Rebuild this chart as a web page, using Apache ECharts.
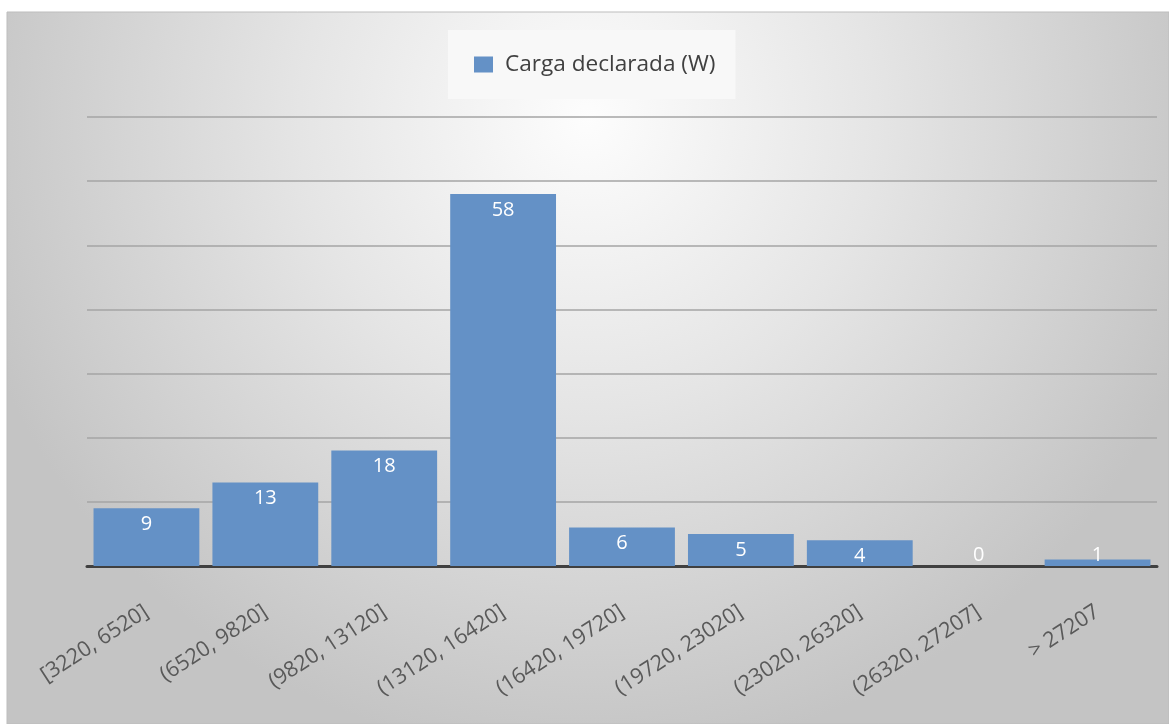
<!DOCTYPE html>
<html>
<head>
<meta charset="utf-8">
<script src="https://cdn.jsdelivr.net/npm/echarts@6/dist/echarts.min.js"></script>
<style>
  html, body { margin: 0; padding: 0; background: #ffffff; }
  #chart { width: 1169px; height: 724px; }
</style>
</head>
<body>
<div id="chart"></div>
<script>
// Histogram bins of declared load (W) and their counts
const categories = [
  '[3220, 6520]', '(6520, 9820]', '(9820, 13120]', '(13120, 16420]',
  '(16420, 19720]', '(19720, 23020]', '(23020, 26320]', '(26320, 27207]', '> 27207'
];
const counts = [9, 13, 18, 58, 6, 5, 4, 0, 1];
const seriesName = 'Carga declarada (W)';
const yMax = 70;
const yStep = 10;

const FONT = '"Open Sans", "Noto Sans", sans-serif';

// Labels sit inside the top of each bar; very short bars keep theirs just above the axis
const barData = counts.map(v => ({
  value: v,
  label: v < 2
    ? { position: 'insideBottom', distance: 1 }
    : { position: 'insideTop', distance: 6 }
}));

const chart = echarts.init(document.getElementById('chart'), null, { renderer: 'canvas' });

chart.setOption({
  animation: false,
  graphic: [
    {
      type: 'rect',
      z: -10,
      silent: true,
      shape: { x: 7, y: 12, width: 1162, height: 712 },
      style: {
        fill: new echarts.graphic.RadialGradient(0.5, 0.15, 0.9, [
          { offset: 0, color: '#fdfdfd' },
          { offset: 0.45, color: '#e5e5e5' },
          { offset: 1, color: '#c4c4c4' }
        ]),
        stroke: '#bdbdbd',
        lineWidth: 1
      }
    }
  ],
  legend: {
    data: [seriesName],
    left: 448,
    top: 30,
    padding: [23, 20, 23, 26],
    backgroundColor: '#f8f8f8',
    itemWidth: 19,
    itemHeight: 16,
    itemGap: 10,
    icon: 'rect',
    textStyle: {
      fontFamily: FONT,
      fontSize: 22.6,
      color: '#404040',
      padding: [0, 0, 0, 7]
    }
  },
  grid: { left: 87, right: 12, top: 117, bottom: 158, containLabel: false },
  xAxis: {
    type: 'category',
    data: categories,
    axisTick: { show: false },
    axisLine: { show: true, lineStyle: { color: '#404040', width: 3 } },
    axisLabel: {
      interval: 0,
      rotate: 33,
      margin: 44,
      fontFamily: FONT,
      fontSize: 21.5,
      color: '#595959'
    }
  },
  yAxis: {
    type: 'value',
    min: 0,
    max: yMax,
    interval: yStep,
    axisLabel: { show: false },
    axisLine: { show: false },
    axisTick: { show: false },
    splitLine: { lineStyle: { color: '#a4a4a4', width: 1.5 } }
  },
  series: [
    {
      name: seriesName,
      type: 'bar',
      data: barData,
      barCategoryGap: '11%',
      itemStyle: { color: '#6491c6', borderWidth: 0 },
      label: {
        show: true,
        color: '#ffffff',
        fontFamily: FONT,
        fontSize: 20
      }
    }
  ]
});
</script>
</body>
</html>
